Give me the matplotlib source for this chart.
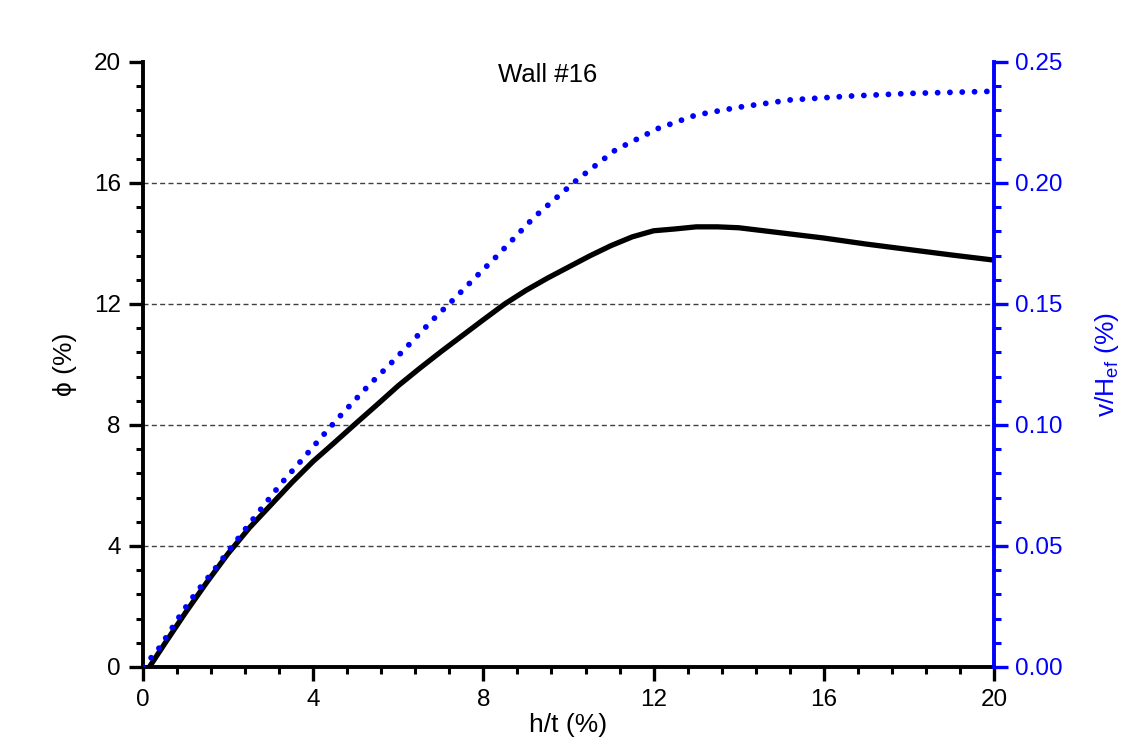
import matplotlib
matplotlib.use("Agg")
import matplotlib.pyplot as plt
from matplotlib.ticker import MultipleLocator

# phi (%) against h/t (%), left axis
x_phi = [0.15, 0.5, 1.0, 1.5, 2.0, 2.5, 3.0, 3.5, 4.0, 4.5, 5.0, 5.5, 6.0, 6.5, 7.0,
         7.5, 8.0, 8.5, 9.0, 9.5, 10.0, 10.5, 11.0, 11.5, 12.0, 12.5, 13.0, 13.5,
         14.0, 15.0, 16.0, 17.0, 18.0, 19.0, 20.0]
phi = [0.0, 0.75, 1.8, 2.8, 3.75, 4.6, 5.35, 6.1, 6.8, 7.42, 8.05, 8.67, 9.3, 9.87, 10.42,
       10.95, 11.48, 12.0, 12.45, 12.85, 13.22, 13.59, 13.93, 14.22, 14.42, 14.48, 14.55, 14.55,
       14.52, 14.35, 14.18, 13.98, 13.8, 13.62, 13.45]

# v/Hef (%) against h/t (%), right axis
x_v = [0.0, 0.2, 0.4, 0.9, 1.25, 1.65, 2.05, 2.45, 2.85, 3.25, 3.7, 4.15, 4.6, 5.3, 5.8,
       6.3, 6.8, 7.3, 7.8, 8.3, 9.2, 10.2, 11.1, 12.1, 13.0, 14.0, 15.2, 16.6, 18.0, 20.0]
v_hef = [0.0, 0.004, 0.0083, 0.0221, 0.0308, 0.0396, 0.0489, 0.058, 0.067, 0.0759, 0.0849,
         0.0941, 0.1031, 0.1163, 0.125, 0.1341, 0.1433, 0.1519, 0.1608, 0.1695, 0.186, 0.2013,
         0.2136, 0.2225, 0.2281, 0.2313, 0.2343, 0.2359, 0.237, 0.2379]

left_ticks = [0, 4, 8, 12, 16, 20]
right_ticks = [0.0, 0.05, 0.10, 0.15, 0.20, 0.25]
grid_levels = [4, 8, 12, 16]

plt.rcParams['font.family'] = ['Liberation Sans', 'DejaVu Sans']

BLUE = '#0000ff'

fig = plt.figure(figsize=(11.26, 7.44), dpi=100)
ax = fig.add_axes([0.127, 0.1035, 0.7558, 0.8132])
ax2 = ax.twinx()

for lvl in grid_levels:
    ax.axhline(lvl, color='#404040', lw=1.0, linestyle=(0, (3.6, 2.4)), zorder=0)

ax.plot(x_phi, phi, color='black', lw=3.8, solid_capstyle='round', zorder=3)
ax2.plot(x_v, v_hef, color=BLUE, lw=4.2, linestyle=(0, (0.01, 2.1)),
         dash_capstyle='round', zorder=3)

ax.set_xlim(0, 20)
ax.set_ylim(0, 20)
ax2.set_ylim(0, 0.25)

ax.set_xticks(left_ticks)
ax.set_yticks(left_ticks)
ax2.set_yticks(right_ticks)
ax2.set_yticklabels([f"{t:.2f}" for t in right_ticks])
ax.xaxis.set_minor_locator(MultipleLocator(0.8))
ax.yaxis.set_minor_locator(MultipleLocator(0.8))
ax2.yaxis.set_minor_locator(MultipleLocator(0.01))

for s in ['top', 'right']:
    ax.spines[s].set_visible(False)
for s in ['top', 'left', 'bottom']:
    ax2.spines[s].set_visible(False)
for s in ['left', 'bottom']:
    ax.spines[s].set_linewidth(2.8)
ax2.spines['right'].set_linewidth(2.8)
ax2.spines['right'].set_color(BLUE)

ax.tick_params(which='major', direction='out', length=10, width=2.4, labelsize=17.5, pad=6)
ax.tick_params(which='minor', direction='out', length=5, width=2.2)
ax2.tick_params(which='major', direction='out', length=10, width=2.4, labelsize=17.5, pad=5,
                color=BLUE, labelcolor=BLUE)
ax2.tick_params(which='minor', direction='out', length=5, width=2.2, color=BLUE)

ax.set_xlabel('h/t (%)', fontsize=19, labelpad=1)
ax.set_ylabel('\u03d5 (%)', fontsize=19, labelpad=12)
ax2.set_ylabel(r'v/H$_\mathregular{ef}$ (%)', fontsize=19, color=BLUE, labelpad=22)

ax.text(0.476, 0.978, 'Wall #16', transform=ax.transAxes, ha='center', va='center',
        fontsize=18.5)

fig.savefig('out.png', dpi=100, facecolor='white')
